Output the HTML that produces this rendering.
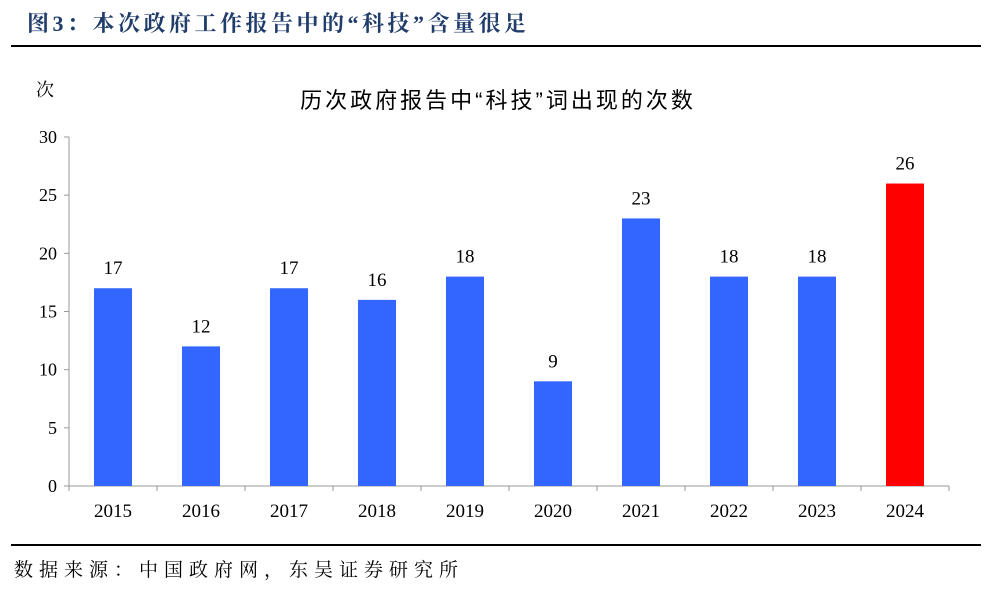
<!DOCTYPE html>
<html><head><meta charset="utf-8">
<style>
body{margin:0;background:#fff;width:1001px;height:592px;overflow:hidden;position:relative;font-family:"Liberation Serif","Noto Serif CJK SC",serif;}
.t{position:absolute;left:27px;top:7px;font-size:22px;font-weight:bold;color:#1f3c6a;font-family:"Liberation Serif","Noto Serif CJK SC",serif;letter-spacing:3.5px;white-space:nowrap}
.l1{position:absolute;left:11px;top:45px;width:970px;height:2px;background:#000}
.l2{position:absolute;left:11px;top:544px;width:970px;height:2px;background:#000}
.src{position:absolute;left:14px;top:555px;font-size:19px;color:#000;letter-spacing:6px;white-space:nowrap}
</style></head><body>
<div class="t">图3：本次政府工作报告中的“科技”含量很足</div>
<div class="l1"></div>
<svg width="1001" height="592" style="position:absolute;left:0;top:0">
<text x="36" y="96" font-size="18" font-family="Liberation Serif, Noto Serif CJK SC, serif">次</text>
<text x="498" y="108" font-size="22" letter-spacing="3" text-anchor="middle" font-family="Liberation Sans, Noto Sans CJK SC, sans-serif">历次政府报告中“科技”词出现的次数</text>
<g id="g"></g>
</svg>
<div class="l2"></div>
<div class="src">数据来源：中国政府网，东吴证券研究所</div>
<script>
const categories=["2015","2016","2017","2018","2019","2020","2021","2022","2023","2024"];
const values=[17,12,17,16,18,9,23,18,18,26];
const yTicks=[0,5,10,15,20,25,30];
const g=document.getElementById('g');
const NS='http://www.w3.org/2000/svg';
const x0=69,x1=949,y0=486,y1=137,yMax=30;
const bw=(x1-x0)/categories.length;
const ys=v=>y0-(v/yMax)*(y0-y1);
function mk(t,a){const e=document.createElementNS(NS,t);for(const k in a)e.setAttribute(k,a[k]);g.appendChild(e);return e;}
const ax=mk('line',{x1:x0,y1:y1,x2:x0,y2:y0,stroke:'#999','stroke-width':1});


const bx=mk('line',{x1:x0,y1:y0,x2:x1,y2:y0,stroke:'#999','stroke-width':1});


yTicks.forEach(v=>{
  const y=ys(v);
  mk('line',{x1:x0-5,y1:y,x2:x0,y2:y,stroke:'#999'});
  const t=mk('text',{x:x0-12,y:y+6,'font-size':18,'text-anchor':'end','font-family':'Liberation Serif, serif'});
  t.textContent=v;
  
  
});
for(let i=0;i<=categories.length;i++){const x=x0+i*bw;mk('line',{x1:x,y1:y0,x2:x,y2:y0+5,stroke:'#999'});}
categories.forEach((c,i)=>{
  const cx=x0+bw*(i+0.5),v=values[i];
  const r=mk('rect',{x:cx-19,y:ys(v),width:38,height:y0-ys(v),fill:i===categories.length-1?'#ff0000':'#3366ff'});
  
  
  const vl=mk('text',{x:cx,y:ys(v)-14,'font-size':19,'text-anchor':'middle','font-family':'Liberation Serif, serif'});
  vl.textContent=v;
  
  
  const xl=mk('text',{x:cx,y:y0+31,'font-size':19,'text-anchor':'middle','font-family':'Liberation Serif, serif'});
  xl.textContent=c;
  
  
});
</script>
</body></html>
